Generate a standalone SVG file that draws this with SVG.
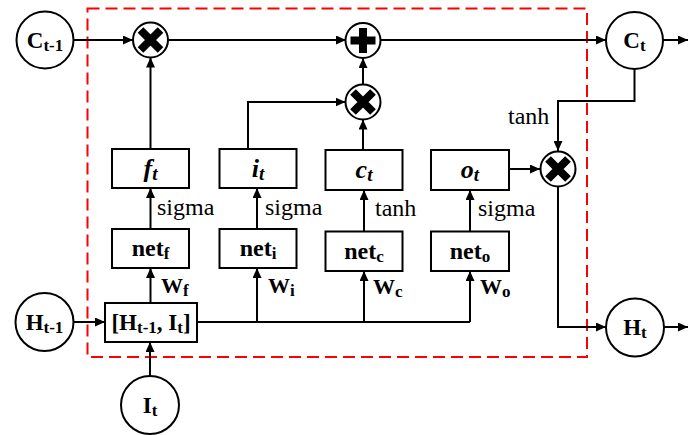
<svg xmlns="http://www.w3.org/2000/svg" width="688" height="435" viewBox="0 0 688 435">
<defs>
<marker id="arr" markerUnits="userSpaceOnUse" markerWidth="11" markerHeight="9" refX="10" refY="4.5" orient="auto">
<path d="M0,0 L10,4.5 L0,9 z" fill="#000"/>
</marker>
<style>
.ln{fill:none;stroke:#000;stroke-width:2}
.nd{fill:#fff;stroke:#000;stroke-width:2}
.bx{fill:#fff;stroke:#000;stroke-width:2}
.t{font-family:"Liberation Serif","Times New Roman",serif;font-weight:bold;font-size:23px;fill:#000;text-anchor:middle}
.n{font-size:24px}
.g{font-family:"Liberation Serif","Times New Roman",serif;font-weight:bold;font-style:italic;font-size:26px;fill:#000;text-anchor:middle}
.l{font-family:"Liberation Serif","Times New Roman",serif;font-size:24px;fill:#000}
.w{font-family:"Liberation Serif","Times New Roman",serif;font-weight:bold;font-size:22px;fill:#000}
.s{font-size:17px}
.x{stroke:#000;stroke-width:8;fill:none}
</style>
</defs>
<rect x="87.5" y="8.5" width="499.5" height="348.5" fill="none" stroke="#ff0000" stroke-width="2" stroke-dasharray="12 6"/>
<g id="connectors">
<path class="ln" d="M74,40 H133" marker-end="url(#arr)"/>
<path class="ln" d="M168,40 H346" marker-end="url(#arr)"/>
<path class="ln" d="M380,40 H606" marker-end="url(#arr)"/>
<path class="ln" d="M663,40 H688" marker-end="url(#arr)"/>
<path class="ln" d="M150.5,149 V57.5" marker-end="url(#arr)"/>
<path class="ln" d="M363,85 V58" marker-end="url(#arr)"/>
<path class="ln" d="M248,149 V102 H345.5" marker-end="url(#arr)"/>
<path class="ln" d="M363,150 V119.5" marker-end="url(#arr)"/>
<path class="ln" d="M634.5,68 V101 H558 V151" marker-end="url(#arr)"/>
<path class="ln" d="M509,169 H540" marker-end="url(#arr)"/>
<path class="ln" d="M558,186.5 V327 H606" marker-end="url(#arr)"/>
<path class="ln" d="M664,327 H688" marker-end="url(#arr)"/>
<path class="ln" d="M150.5,229 V188" marker-end="url(#arr)"/>
<path class="ln" d="M257,229 V188" marker-end="url(#arr)"/>
<path class="ln" d="M364,231 V190" marker-end="url(#arr)"/>
<path class="ln" d="M470,231 V190" marker-end="url(#arr)"/>
<path class="ln" d="M150.5,303 V268" marker-end="url(#arr)"/>
<path class="ln" d="M197,322 H470"/>
<path class="ln" d="M257,322 V268" marker-end="url(#arr)"/>
<path class="ln" d="M364,322 V271" marker-end="url(#arr)"/>
<path class="ln" d="M470,322 V271" marker-end="url(#arr)"/>
<path class="ln" d="M73,322 H105" marker-end="url(#arr)"/>
<path class="ln" d="M150,376 V342" marker-end="url(#arr)"/>
</g>
<g id="labels">
<text class="l" x="508" y="124">tanh</text>
<text class="l" x="157" y="215">sigma</text>
<text class="l" x="265" y="215">sigma</text>
<text class="l" x="375" y="216">tanh</text>
<text class="l" x="478" y="216">sigma</text>
<text class="w" x="161" y="293">W<tspan class="s" dy="3">f</tspan></text>
<text class="w" x="268" y="293">W<tspan class="s" dy="3">i</tspan></text>
<text class="w" x="373" y="294">W<tspan class="s" dy="3">c</tspan></text>
<text class="w" x="480" y="294">W<tspan class="s" dy="3">o</tspan></text>
</g>
<g id="C_prev">
<circle class="nd" cx="45" cy="40" r="28.5"/>
<text class="t" x="45" y="48">C<tspan class="s" dy="3">t-1</tspan></text>
</g>
<g id="C_t">
<circle class="nd" cx="634.5" cy="40.5" r="28.5"/>
<text class="t" x="634.5" y="48">C<tspan class="s" dy="3">t</tspan></text>
</g>
<g id="H_prev">
<circle class="nd" cx="44.5" cy="322" r="29"/>
<text class="t" x="44.5" y="330">H<tspan class="s" dy="3">t-1</tspan></text>
</g>
<g id="I_t">
<circle class="nd" cx="150" cy="405" r="29"/>
<text class="t" x="150" y="413">I<tspan class="s" dy="3">t</tspan></text>
</g>
<g id="H_t">
<circle class="nd" cx="635" cy="327.5" r="29"/>
<text class="t" x="635" y="335">H<tspan class="s" dy="3">t</tspan></text>
</g>
<g id="mul_f">
<circle class="nd" cx="150.5" cy="40" r="17.5"/>
<path class="x" d="M140.5,30 L160.5,50 M160.5,30 L140.5,50"/>
</g>
<g id="add_c">
<circle class="nd" cx="363" cy="40.5" r="17.5"/>
<path class="x" d="M363,28 V53 M350.5,40.5 H375.5"/>
</g>
<g id="mul_i">
<circle class="nd" cx="363" cy="102" r="17.5"/>
<path class="x" d="M353,92 L373,112 M373,92 L353,112"/>
</g>
<g id="mul_o">
<circle class="nd" cx="558" cy="169" r="17.5"/>
<path class="x" d="M548,159 L568,179 M568,159 L548,179"/>
</g>
<g id="f_t">
<rect class="bx" x="112" y="149" width="77" height="39"/>
<text class="g" x="150.5" y="177">f<tspan font-size="19" dy="3">t</tspan></text>
</g>
<g id="i_t">
<rect class="bx" x="219.5" y="149" width="77" height="39"/>
<text class="g" x="258" y="177">i<tspan font-size="19" dy="3">t</tspan></text>
</g>
<g id="c_t">
<rect class="bx" x="325.5" y="150" width="77" height="40"/>
<text class="g" x="364" y="178">c<tspan font-size="19" dy="3">t</tspan></text>
</g>
<g id="o_t">
<rect class="bx" x="431" y="150" width="78" height="40"/>
<text class="g" x="470" y="178">o<tspan font-size="19" dy="3">t</tspan></text>
</g>
<g id="net_f">
<rect class="bx" x="112" y="229" width="77" height="39"/>
<text class="t n" x="150.5" y="256">net<tspan class="s" dy="3">f</tspan></text>
</g>
<g id="net_i">
<rect class="bx" x="219.5" y="229" width="77" height="39"/>
<text class="t n" x="258" y="256">net<tspan class="s" dy="3">i</tspan></text>
</g>
<g id="net_c">
<rect class="bx" x="325.5" y="231.5" width="77" height="39.5"/>
<text class="t n" x="364" y="259">net<tspan class="s" dy="3">c</tspan></text>
</g>
<g id="net_o">
<rect class="bx" x="431" y="231.5" width="78" height="39.5"/>
<text class="t n" x="470" y="259">net<tspan class="s" dy="3">o</tspan></text>
</g>
<g id="concat">
<rect class="bx" x="105" y="303" width="92" height="39"/>
<text class="t" x="151" y="330">[H<tspan class="s" dy="3">t-1</tspan><tspan dy="-3">, I</tspan><tspan class="s" dy="3">t</tspan><tspan dy="-3">]</tspan></text>
</g>
</svg>
